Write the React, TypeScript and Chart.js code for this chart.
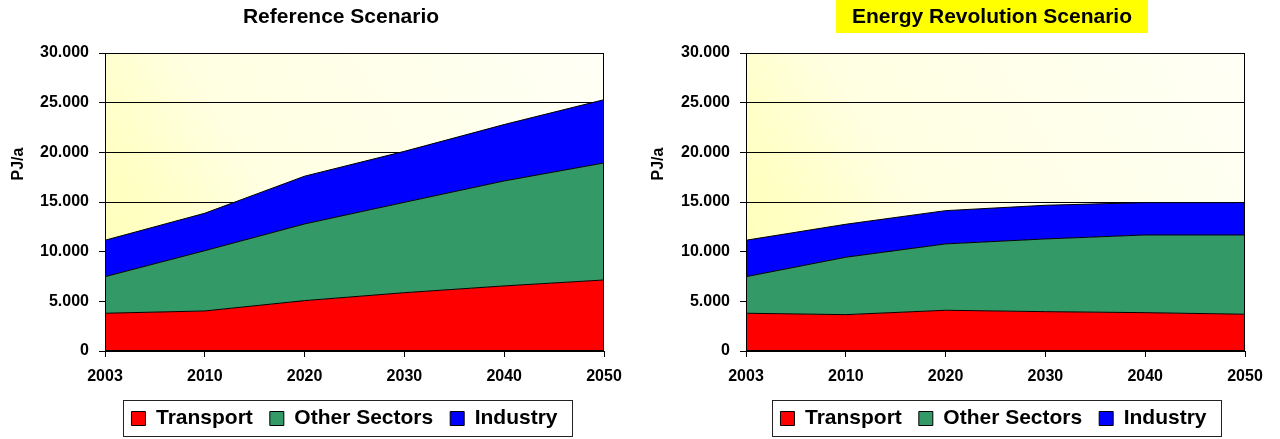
import React, { useEffect, useRef } from 'react';
import { Chart, registerables } from 'chart.js';

Chart.register(...registerables);

const FONT = '"Liberation Sans", Arial, Helvetica, sans-serif';

const years = ['2003', '2010', '2020', '2030', '2040', '2050'];
const seriesNames = ['Transport', 'Other Sectors', 'Industry'];
const seriesColors = ['#FF0000', '#339966', '#0000FF'];

const refTransport = [3800, 4030, 5070, 5870, 6550, 7150];
const refOther = [3680, 6070, 7720, 9100, 10570, 11780];
const refIndustry = [3670, 3770, 4810, 5130, 5680, 6370];

const erTransport = [3800, 3660, 4100, 3960, 3860, 3700];
const erOther = [3680, 5780, 6680, 7320, 7820, 7980];
const erIndustry = [3670, 3320, 3350, 3390, 3260, 3260];

const yMax = 30000;
const yStep = 5000;
const yTitle = 'PJ/a';

type Props = {
  left: number;
  title: string;
  titleX: number;
  titleBg?: string;
  series: number[][];
  padLeft: number;
  padRight: number;
  yWidth: number;
  legendShift: number;
};

function ScenarioChart(p: Props) {
  const ref = useRef<HTMLCanvasElement>(null);
  useEffect(() => {
    const canvas = ref.current;
    if (!canvas) return;
    const decor = {
      id: 'decor',
      afterUpdate(chart: any) {
        const lg = chart.legend;
        if (lg) {
          lg.left += p.legendShift;
          lg.right += p.legendShift;
          (lg.legendHitBoxes || []).forEach((h: any) => {
            h.left += p.legendShift;
          });
        }
      },
      beforeDraw(chart: any) {
        const { ctx, chartArea: a } = chart;
        ctx.save();
        const g = ctx.createLinearGradient(a.left, a.bottom, a.right, a.top);
        g.addColorStop(0, '#FFFFB0');
        g.addColorStop(0.2, '#FFFFC6');
        g.addColorStop(0.38, '#FFFFE2');
        g.addColorStop(0.7, '#FFFFEC');
        g.addColorStop(1, '#FFFFF6');
        ctx.fillStyle = g;
        ctx.fillRect(a.left, a.top, a.right - a.left, a.bottom - a.top);
        // title
        ctx.font = `bold 21px ${FONT}`;
        const w = ctx.measureText(p.title).width;
        if (p.titleBg) {
          ctx.fillStyle = p.titleBg;
          ctx.fillRect(Math.round(p.titleX - w / 2 - 16), 0, Math.round(w + 32), 33);
        }
        ctx.fillStyle = '#000';
        ctx.textAlign = 'center';
        ctx.textBaseline = 'alphabetic';
        ctx.fillText(p.title, p.titleX, 23);
        // y axis title
        ctx.translate(23, 164);
        ctx.rotate(-Math.PI / 2);
        ctx.font = `bold 16px ${FONT}`;
        ctx.fillText(yTitle, 0, 0);
        ctx.restore();
      },
      afterDatasetsDraw(chart: any) {
        const { ctx, chartArea: a } = chart;
        ctx.save();
        ctx.strokeStyle = '#000';
        ctx.lineWidth = 1;
        const l = Math.round(a.left) + 0.5;
        const t = Math.round(a.top) + 0.5;
        const r = Math.round(a.right) - 0.5;
        const b = Math.round(a.bottom) - 0.5;
        ctx.strokeRect(l, t, r - l, b - t);
        ctx.restore();
      },
      afterDraw(chart: any) {
        const { ctx } = chart;
        const hb = chart.legend && chart.legend.legendHitBoxes;
        if (!hb || !hb.length) return;
        const f = hb[0];
        const z = hb[hb.length - 1];
        const x0 = Math.round(f.left - 8) + 0.5;
        const x1 = Math.round(z.left + z.width + 14) + 0.5;
        const y0 = Math.round(f.top - 8.5) + 0.5;
        const y1 = Math.round(f.top + f.height + 6.5) + 0.5;
        ctx.save();
        ctx.strokeStyle = '#222';
        ctx.lineWidth = 1;
        ctx.strokeRect(x0, y0, x1 - x0, y1 - y0);
        ctx.restore();
      },
    };

    const tickFont = { family: FONT, size: 16, weight: 'bold' as const };
    const chart = new Chart(canvas, {
      type: 'line',
      data: {
        labels: years,
        datasets: p.series.map((d, i) => ({
          label: seriesNames[i],
          data: d,
          backgroundColor: seriesColors[i],
          borderColor: '#000',
          borderWidth: 1,
          fill: i === 0 ? 'origin' : '-1',
          pointRadius: 0,
          tension: 0,
        })),
      },
      options: {
        responsive: false,
        animation: false,
        devicePixelRatio: 1,
        layout: { padding: { left: p.padLeft, right: p.padRight, top: 53, bottom: 0 } },
        plugins: {
          title: { display: false },
          tooltip: { enabled: false },
          legend: {
            position: 'bottom',
            fullSize: false,
            labels: {
              font: { family: FONT, size: 21, weight: 'bold' },
              color: '#000',
              boxWidth: 14,
              boxHeight: 14,
              padding: 17,
            },
          },
        },
        scales: {
          x: {
            type: 'category',
            offset: false,
            grid: { display: true, drawOnChartArea: false, drawTicks: true, tickLength: 6, color: '#000' },
            border: { display: true, color: '#000' },
            ticks: { font: tickFont, color: '#000', padding: 10, maxRotation: 0, autoSkip: false },
            afterFit(s: any) {
              s.height = 40;
            },
          },
          y: {
            stacked: true,
            min: 0,
            max: yMax,
            ticks: {
              stepSize: yStep,
              font: tickFont,
              color: '#000',
              padding: 10,
              callback: (v: any) => (Number(v) === 0 ? '0' : (Number(v) / 1000).toFixed(3)),
            },
            grid: { color: '#000', tickLength: 6, lineWidth: 1 },
            border: { display: true, color: '#000' },
            afterFit(s: any) {
              s.width = p.yWidth;
            },
          },
        },
      },
      plugins: [decor],
    } as any);
    return () => chart.destroy();
  }, []);
  return (
    <canvas
      ref={ref}
      width={640}
      height={439}
      style={{ position: 'absolute', left: p.left, top: 0, width: 640, height: 439, display: 'block' }}
    />
  );
}

export default function App() {
  return (
    <div style={{ position: 'absolute', left: 0, top: 0, width: 1280, height: 439, background: '#fff', overflow: 'hidden' }}>
      <ScenarioChart
        left={0}
        title="Reference Scenario"
        titleX={341}
        series={[refTransport, refOther, refIndustry]}
        padLeft={20}
        padRight={36}
        yWidth={85}
        legendShift={-10}
      />
      <ScenarioChart
        left={640}
        title="Energy Revolution Scenario"
        titleX={352}
        titleBg="#FFFF00"
        series={[erTransport, erOther, erIndustry]}
        padLeft={20}
        padRight={35}
        yWidth={86}
        legendShift={-2}
      />
    </div>
  );
}
